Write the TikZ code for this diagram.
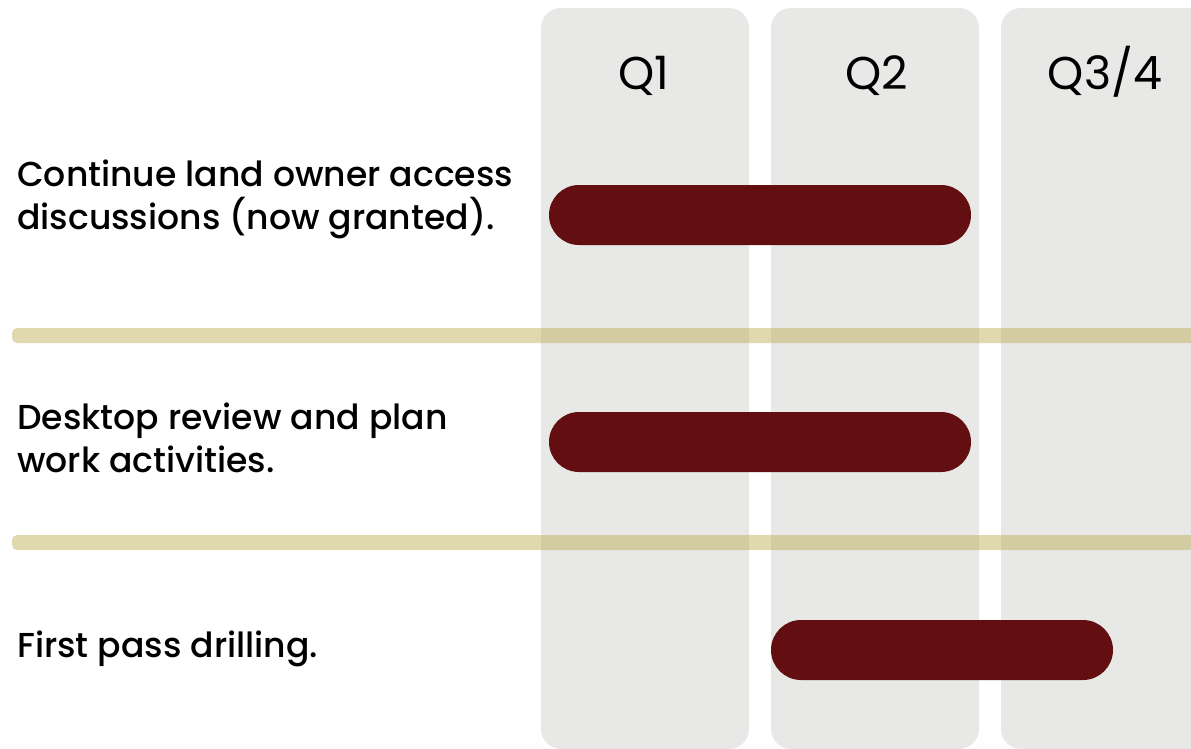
\documentclass[tikz,border=0pt]{standalone}
\usepackage{fontspec}
\setmainfont{Poppins}
\newfontfamily\taskfont{Poppins Medium}
\definecolor{colgray}{HTML}{E8E9E6}
\definecolor{barred}{HTML}{630E11}
\definecolor{sepcol}{RGB}{184,168,73}
\begin{document}
\begin{tikzpicture}[x=1pt,y=-1pt,
  column/.style={fill=colgray,rounded corners=20pt},
  bar/.style={fill=barred,rounded corners=30pt},
  sep/.style={fill=sepcol,fill opacity=0.43,rounded corners=5pt},
  qlabel/.style={font=\fontsize{46}{50}\selectfont,inner sep=0pt,anchor=base},
  task/.style={font=\taskfont\fontsize{34.6}{43}\selectfont,inner sep=0pt,anchor=base west,align=left}]
\useasboundingbox (0,0) rectangle (1191,749);
% columns
\path[column] (541,8) rectangle (749,749);
\path[column] (771,8) rectangle (979,749);
\path[column] (1001,8) rectangle (1231,749);
% headers
\node[qlabel] (q1) at (644,90) {Q1};
\node[qlabel] (q2) at (877,90) {Q2};
\node[qlabel] (q3) at (1105,90) {Q3/4};
% separators
\path[sep] (12,328) rectangle (1200,343);
\path[sep] (12,535) rectangle (1200,550);
% tasks
\node[task] (t1) at (17,229) {Continue land owner access\\discussions (now granted).};
\node[task] (t2) at (17,472) {Desktop review and plan\\work activities.};
\node[task] (t3) at (17,657) {First pass drilling.};
% bars
\path[bar] (549,185) rectangle (971,245);
\path[bar] (549,412) rectangle (971,472);
\path[bar] (771,620) rectangle (1113,680);
\end{tikzpicture}
\end{document}
